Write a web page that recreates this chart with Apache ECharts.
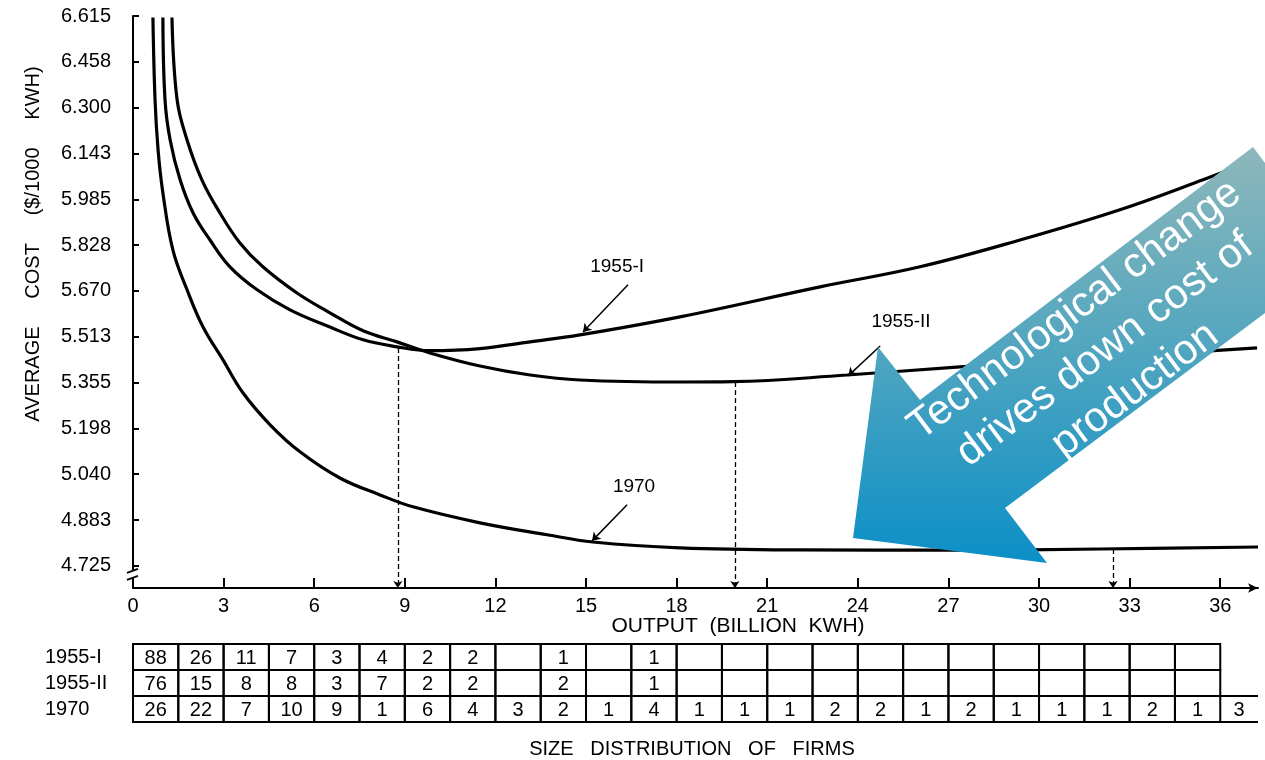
<!DOCTYPE html>
<html>
<head>
<meta charset="utf-8">
<script src="https://cdn.jsdelivr.net/npm/echarts@6/dist/echarts.min.js"></script>
<style>
html,body{margin:0;padding:0;background:#fff;}
#c{width:1265px;height:760px;}
</style>
</head>
<body>
<div id="c"></div>
<script>
// ---------------- DATA ----------------
const xTickValues = [0, 3, 6, 9, 12, 15, 18, 21, 24, 27, 30, 33, 36];
const yTickValues = [4.725, 4.8825, 5.04, 5.1975, 5.355, 5.5125, 5.67, 5.8275, 5.985, 6.1425, 6.3, 6.4575, 6.615];
const yTickLabels = ['4.725', '4.883', '5.040', '5.198', '5.355', '5.513', '5.670', '5.828', '5.985', '6.143', '6.300', '6.458', '6.615'];

const seriesNames = ['1955-I', '1955-II', '1970'];

// [output (billion kWh), average cost ($/1000 kWh)]
const cost1955I = [
  [0.99, 6.610], [1.06, 6.327], [1.23, 6.189], [1.56, 6.052], [1.99, 5.938], [2.55, 5.845],
  [3.21, 5.753], [4.11, 5.674], [5.20, 5.605], [6.52, 5.546], [7.62, 5.502], [8.74, 5.478],
  [9.83, 5.465], [11.49, 5.472], [13.15, 5.495], [14.80, 5.519], [18.11, 5.581], [22.75, 5.684],
  [26.06, 5.753], [29.37, 5.845], [32.68, 5.949], [35.43, 6.052], [37.25, 6.125]
];
const cost1955II = [
  [1.29, 6.610], [1.46, 6.327], [1.79, 6.189], [2.28, 6.052], [2.88, 5.938], [3.54, 5.835],
  [4.30, 5.753], [5.43, 5.663], [6.52, 5.595], [7.62, 5.533], [8.74, 5.495], [9.83, 5.457],
  [11.49, 5.412], [13.15, 5.381], [14.80, 5.364], [18.11, 5.357], [19.87, 5.358], [23.64, 5.381],
  [27.38, 5.409], [32.02, 5.440], [37.22, 5.474]
];
const cost1970 = [
  [0.66, 6.610], [0.73, 6.327], [0.83, 6.155], [0.99, 6.007], [1.32, 5.811], [1.79, 5.674],
  [2.32, 5.546], [2.98, 5.433], [3.64, 5.320], [4.54, 5.210], [5.53, 5.117], [6.85, 5.027],
  [8.18, 4.969], [9.27, 4.928], [11.49, 4.873], [13.71, 4.832], [15.23, 4.807], [18.11, 4.787],
  [22.09, 4.780], [27.05, 4.779], [32.02, 4.783], [37.25, 4.790]
];

// curve labels and their leader arrows (data coordinates)
const labelPositions = [[16.03, 5.753], [25.43, 5.564], [16.59, 4.997]];
const labelArrowStarts = [[16.39, 5.691], [24.74, 5.481], [16.36, 4.935]];
const labelArrowEnds = [[14.90, 5.529], [23.68, 5.378], [15.20, 4.811]];

// minimum-efficient-scale markers (dashed arrows down to the output axis)
const minCostOutputs = [8.77, 19.93, 32.45];
const minCostLevels = [5.474, 5.357, 4.783];

// size distribution of firms (bins of 1.5 billion kWh)
const tableRows = ['1955-I', '1955-II', '1970'];
const firms1955I = [88, 26, 11, 7, 3, 4, 2, 2, null, 1, null, 1, null, null, null, null, null, null, null, null, null, null, null, null];
const firms1955II = [76, 15, 8, 8, 3, 7, 2, 2, null, 2, null, 1, null, null, null, null, null, null, null, null, null, null, null, null];
const firms1970 = [26, 22, 7, 10, 9, 1, 6, 4, 3, 2, 1, 4, 1, 1, 1, 2, 2, 1, 2, 1, 1, 1, 2, 1, 3];
const binWidth = 1.5;

const arrowTextLines = ['Technological change', 'drives down cost of', 'production'];
const yAxisTitle = 'AVERAGE     COST     ($/1000     KWH)';
const xAxisTitle = 'OUTPUT  (BILLION  KWH)';
const tableTitle = 'SIZE   DISTRIBUTION   OF   FIRMS';

// axis extents
const X_MAX = 37.25;
const Y_MIN = 4.649;
const Y_MAX = 6.615;

// ---------------- CHART ----------------
const FONT = 'Liberation Sans';
const INK = '#000000';

function nearestTick(v) {
  let best = 0, d = Infinity;
  yTickValues.forEach((t, i) => { const dd = Math.abs(t - v); if (dd < d) { d = dd; best = i; } });
  return yTickLabels[best];
}

const tableData = [];
[firms1955I, firms1955II, firms1970].forEach((row, r) => {
  row.forEach((v, c) => tableData.push([c, r, v == null ? -1 : v]));
});

function renderCell(params, api) {
  const c = api.value(0), r = api.value(1), v = api.value(2);
  const band = api.size([0, 1])[1];
  const isOpen = (c + 1) * binWidth > X_MAX;
  const p0 = api.coord([c * binWidth, r]);
  const p1 = api.coord([isOpen ? X_MAX : (c + 1) * binWidth, r]);
  const x0 = p0[0], x1 = p1[0], yT = p0[1] - band / 2, yB = p0[1] + band / 2;
  const children = [];
  if (isOpen) {
    children.push({ type: 'line', shape: { x1: x0, y1: yT, x2: x1, y2: yT }, style: { stroke: INK, lineWidth: 2 } });
    children.push({ type: 'line', shape: { x1: x0, y1: yB, x2: x1, y2: yB }, style: { stroke: INK, lineWidth: 2 } });
  } else {
    children.push({ type: 'rect', shape: { x: x0, y: yT, width: x1 - x0, height: yB - yT },
      style: { stroke: INK, lineWidth: 2, fill: 'rgba(0,0,0,0)' } });
  }
  if (v >= 0) {
    children.push({ type: 'text', x: (x0 + x1) / 2, y: p0[1] + 1,
      style: { text: String(v), fill: INK, fontSize: 20, fontFamily: FONT,
        align: 'center', verticalAlign: 'middle', textAlign: 'center', textVerticalAlign: 'middle' } });
  }
  return { type: 'group', children };
}

function renderCurveLabel(params, api) {
  const p = api.coord([api.value(0), api.value(1)]);
  return { type: 'text', x: p[0], y: p[1],
    style: { text: seriesNames[params.dataIndex], fill: INK, fontSize: 19, fontFamily: FONT,
      align: 'center', verticalAlign: 'middle', textAlign: 'center', textVerticalAlign: 'middle' } };
}

const chart = echarts.init(document.getElementById('c'));

const curveData = [cost1955I, cost1955II, cost1970];

const option = {
  animation: false,
  backgroundColor: '#ffffff',
  textStyle: { fontFamily: FONT, color: INK },
  grid: [
    { left: 133, right: 7, top: 16, bottom: 172 },
    { left: 133, right: 7, top: 644, bottom: 38 }
  ],
  xAxis: [
    {
      type: 'value', gridIndex: 0, min: 0, max: X_MAX,
      axisLine: { show: true, onZero: false, lineStyle: { color: INK, width: 2 }, symbol: ['none', 'arrow'], symbolSize: [7, 10] },
      axisTick: { show: true, inside: true, length: 10, lineStyle: { color: INK, width: 2 }, customValues: xTickValues },
      axisLabel: { show: true, customValues: xTickValues, fontSize: 20, color: INK, fontFamily: FONT, margin: 8 },
      splitLine: { show: false }
    },
    { type: 'value', gridIndex: 1, min: 0, max: X_MAX, show: false }
  ],
  yAxis: [
    {
      type: 'value', gridIndex: 0, min: Y_MIN, max: Y_MAX,
      axisLine: { show: true, onZero: false, lineStyle: { color: INK, width: 2 } },
      axisTick: { show: true, inside: true, length: 6, lineStyle: { color: INK, width: 2 }, customValues: yTickValues },
      axisLabel: { show: true, customValues: yTickValues, formatter: nearestTick, fontSize: 20, color: INK, fontFamily: FONT, margin: 22 },
      splitLine: { show: false }
    },
    {
      type: 'category', gridIndex: 1, data: tableRows, inverse: true,
      axisLine: { show: false }, axisTick: { show: false }, splitLine: { show: false },
      axisLabel: {
        interval: 0, hideOverlap: false,
        align: 'left', margin: 88, fontSize: 20, color: INK, fontFamily: FONT
      }
    }
  ],
  series: [
    ...seriesNames.map((n, i) => ({
      name: n, type: 'line', xAxisIndex: 0, yAxisIndex: 0,
      data: curveData[i], showSymbol: false, smooth: 0.4,
      lineStyle: { color: INK, width: 3.2 }, silent: true, z: 4
    })),
    {
      type: 'custom', xAxisIndex: 0, yAxisIndex: 0, silent: true, z: 5,
      data: labelPositions, encode: { x: 0, y: 1 }, renderItem: renderCurveLabel
    },
    {
      type: 'lines', coordinateSystem: 'cartesian2d', xAxisIndex: 0, yAxisIndex: 0, silent: true, z: 5,
      data: labelArrowStarts.map((s, i) => ({ coords: [s, labelArrowEnds[i]] })),
      symbol: ['none', 'arrow'], symbolSize: 8,
      lineStyle: { color: INK, width: 1.5, opacity: 1, curveness: 0 }
    },
    {
      type: 'lines', coordinateSystem: 'cartesian2d', xAxisIndex: 0, yAxisIndex: 0, silent: true, z: 3,
      data: minCostOutputs.map((x, i) => ({ coords: [[x, minCostLevels[i]], [x, Y_MIN]] })),
      symbol: ['none', 'arrow'], symbolSize: 7,
      lineStyle: { color: INK, width: 1.3, opacity: 1, type: [5, 3], curveness: 0 }
    },
    {
      type: 'custom', xAxisIndex: 1, yAxisIndex: 1, silent: true,
      data: tableData, encode: { x: 0, y: 1 }, renderItem: renderCell
    }
  ]
};

chart.setOption(option);

// decorations computed from the axes
const pBreak = chart.convertToPixel({ xAxisIndex: 0, yAxisIndex: 0 }, [0, yTickValues[0]]);
const bx = pBreak[0], by = pBreak[1];
const gapTop = by + 5, gapBot = by + 12;

const arrowGradient = new echarts.graphic.LinearGradient(0, 0, 0, 1, [
  { offset: 0, color: '#8db7bb' },
  { offset: 0.48, color: '#52a6bf' },
  { offset: 1, color: '#0b8fc7' }
]);

chart.setOption({
  graphic: [
    { type: 'text', x: 33, y: 244, rotation: Math.PI / 2, z: 10,
      style: { text: yAxisTitle, fill: INK, fontSize: 20, fontFamily: FONT, align: 'center', verticalAlign: 'middle' } },
    { type: 'text', x: 738, y: 626, z: 10,
      style: { text: xAxisTitle, fill: INK, fontSize: 21, fontFamily: FONT, align: 'center', verticalAlign: 'middle' } },
    { type: 'text', x: 692, y: 749, z: 10,
      style: { text: tableTitle, fill: INK, fontSize: 20, fontFamily: FONT, align: 'center', verticalAlign: 'middle' } },
    // axis break on the cost axis
    { type: 'rect', z: 20, shape: { x: bx - 3, y: gapTop, width: 6, height: gapBot - gapTop }, style: { fill: '#ffffff' } },
    { type: 'line', z: 21, shape: { x1: bx - 6, y1: gapTop + 2, x2: bx + 5, y2: gapTop - 2 }, style: { stroke: INK, lineWidth: 1.8 } },
    { type: 'line', z: 21, shape: { x1: bx - 6, y1: gapBot + 2, x2: bx + 5, y2: gapBot - 2 }, style: { stroke: INK, lineWidth: 1.8 } },
    // overlay arrow
    { type: 'polygon', z: 100,
      shape: { points: [[1253, 147], [1337, 259], [1005, 508], [1047, 563], [853, 538], [878, 347], [920, 400]] },
      style: { fill: arrowGradient } },
    { type: 'text', x: 1105, y: 350, rotation: 0.646, z: 101,
      style: { text: arrowTextLines.join('\n'), fill: '#ffffff', fontSize: 42, fontFamily: FONT, lineHeight: 50,
        align: 'center', verticalAlign: 'middle', textAlign: 'center', textVerticalAlign: 'middle' } }
  ]
});
</script>
</body>
</html>
